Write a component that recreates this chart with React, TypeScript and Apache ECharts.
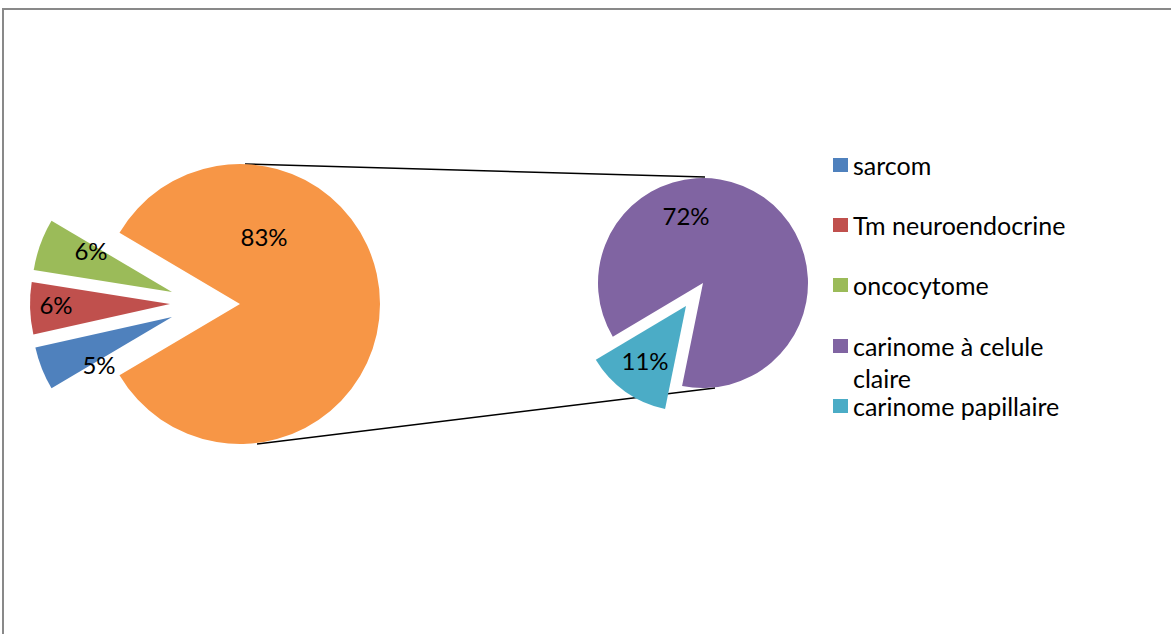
import React, { useEffect, useRef } from "react";
import * as echarts from "echarts";

// ---- data (percent of all cases) ----
const MAIN_CATEGORIES = ["sarcom", "Tm neuroendocrine", "oncocytome", "autres"];
const MAIN_VALUES = [5, 6, 6, 83];

const SUB_CATEGORIES = ["carinome papillaire", "carinome à celule claire"];
const SUB_VALUES = [11, 72];

const LEGEND_A = ["sarcom", "Tm neuroendocrine", "oncocytome"];
const LEGEND_B = ["carinome à celule claire"];
const LEGEND_C = ["carinome papillaire"];

// ---- styles / layout ----
const MAIN_COLORS = ["#4F81BD", "#C0504D", "#9BBB59", "#F79646"];
const SUB_COLORS = ["#4BACC6", "#8064A2"];
const FONT = "Lato, Carlito, Calibri, 'Noto Sans', sans-serif";
const LABEL_SIZE = 24;
const LEGEND_SIZE = 25;

const MAIN_CENTER = [240, 304];
const MAIN_RADIUS = 140;
const MAIN_START = 210.6;
// explosion offsets of the slices (index = category), null = not exploded
const MAIN_EXPLODE: (number[] | null)[] = [[-68, 13], [-70, 0], [-68, -12], null];

const SUB_CENTER = [703, 283];
const SUB_RADIUS = 105;
const SUB_START = 258.5;
const SUB_EXPLODE: (number[] | null)[] = [[-17, 23], null];

// label anchor positions (label layout, not data)
const MAIN_LABEL_POS = [
  [99, 364],
  [56, 304],
  [91, 250],
  [264, 236],
];
const SUB_LABEL_POS = [
  [645, 360],
  [686, 215],
];

function pieSeries(
  center: number[],
  radius: number,
  startAngle: number,
  names: string[],
  values: number[],
  colors: string[],
  visible: number,
  labelPos: number[][]
) {
  return {
    type: "pie",
    center,
    radius,
    startAngle,
    clockwise: true,
    avoidLabelOverlap: false,
    silent: true,
    emphasis: { disabled: true },
    labelLine: { show: false },
    labelLayout: (p: any) => ({
      x: labelPos[p.dataIndex][0],
      y: labelPos[p.dataIndex][1],
      align: "center",
      verticalAlign: "middle",
    }),
    data: names.map((name, i) => ({
      name: i === visible ? name : `__gap_${i}`,
      value: values[i],
      itemStyle: {
        color: i === visible ? colors[i] : "rgba(0,0,0,0)",
        borderWidth: 0,
      },
      label: {
        show: i === visible,
        position: "inside",
        formatter: "{c}%",
        color: "#000",
        fontFamily: FONT,
        fontSize: LABEL_SIZE,
      },
    })),
  };
}

export default function App() {
  const ref = useRef<HTMLDivElement>(null);

  useEffect(() => {
    if (!ref.current) return;
    const chart = echarts.init(ref.current, null, { renderer: "svg" });

    const legendCommon = {
      orient: "vertical",
      left: 833,
      padding: 0,
      itemWidth: 15,
      itemHeight: 14,
      icon: "rect",
      selectedMode: false,
      itemGap: 28,
      textStyle: {
        color: "#000",
        fontFamily: FONT,
        fontSize: LEGEND_SIZE,
        lineHeight: 32,
      },
    };

    const series: any[] = [];
    MAIN_CATEGORIES.forEach((_, i) => {
      const off = MAIN_EXPLODE[i] || [0, 0];
      series.push(
        pieSeries(
          [MAIN_CENTER[0] + off[0], MAIN_CENTER[1] + off[1]],
          MAIN_RADIUS,
          MAIN_START,
          MAIN_CATEGORIES,
          MAIN_VALUES,
          MAIN_COLORS,
          i,
          MAIN_LABEL_POS
        )
      );
    });
    SUB_CATEGORIES.forEach((_, i) => {
      const off = SUB_EXPLODE[i] || [0, 0];
      series.push(
        pieSeries(
          [SUB_CENTER[0] + off[0], SUB_CENTER[1] + off[1]],
          SUB_RADIUS,
          SUB_START,
          SUB_CATEGORIES,
          SUB_VALUES,
          SUB_COLORS,
          i,
          SUB_LABEL_POS
        )
      );
    });

    chart.setOption({
      animation: false,
      backgroundColor: "#fff",
      legend: [
        { ...legendCommon, top: 149, data: LEGEND_A },
        {
          ...legendCommon,
          top: 298,
          data: LEGEND_B,
          formatter: () => " \ncarinome à celule\nclaire",
        },
        { ...legendCommon, top: 390, data: LEGEND_C },
      ],
      graphic: [
        {
          type: "rect",
          shape: { x: 3, y: 9, width: 1300, height: 800 },
          style: { fill: "none", stroke: "#898989", lineWidth: 2 },
          silent: true,
        },
        {
          type: "line",
          shape: { x1: 245, y1: 164, x2: 705, y2: 177 },
          style: { stroke: "#000", lineWidth: 1.5 },
          silent: true,
        },
        {
          type: "line",
          shape: { x1: 257, y1: 444, x2: 715, y2: 388 },
          style: { stroke: "#000", lineWidth: 1.5 },
          silent: true,
        },
      ],
      series,
    });

    return () => chart.dispose();
  }, []);

  return (
    <div
      ref={ref}
      style={{ position: "fixed", left: 0, top: 0, width: 1171, height: 634 }}
    />
  );
}
